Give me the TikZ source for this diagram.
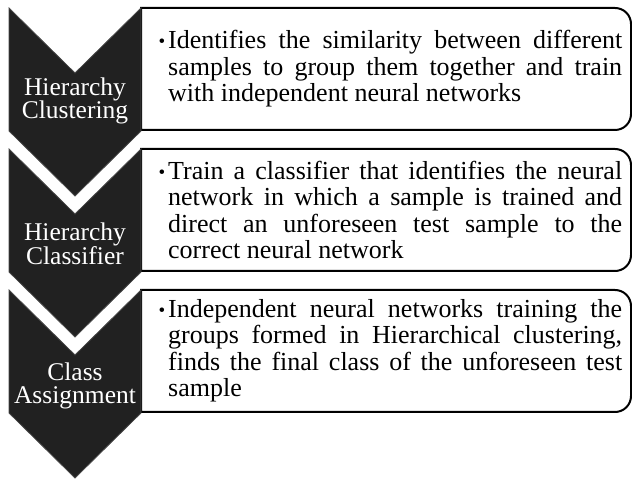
\documentclass[tikz,border=0pt]{standalone}
\usepackage{fontspec}
\setmainfont{Liberation Serif}[HyphenChar=None]
\newcommand{\mybullet}{\leavevmode\llap{\raisebox{1pt}{\fontsize{19}{19}\selectfont\textbullet}\hspace{3pt}}}
\begin{document}
\begin{tikzpicture}[x=1pt,y=1pt,
  chev/.style={fill=black!87, draw=black!72, line width=0.8pt},
  boxline/.style={draw=black, line width=2pt, fill=white},
  chevtext/.style={text=white, align=center, font=\fontsize{25.5}{23.5}\selectfont, inner sep=0pt},
  boxtext/.style={text width=454pt, align=justify, font=\fontsize{26}{26.5}\selectfont, inner sep=0pt, anchor=west}]
\useasboundingbox (0,0) rectangle (632,479);
% boxes
\draw[boxline] (141,471) -- (615,471) arc[start angle=90,end angle=0,radius=16] -- (631,365) arc[start angle=0,end angle=-90,radius=16] -- (141,349) -- cycle;
\draw[boxline] (141,330) -- (615,330) arc[start angle=90,end angle=0,radius=16] -- (631,224) arc[start angle=0,end angle=-90,radius=16] -- (141,208) -- cycle;
\draw[boxline] (141,189) -- (615,189) arc[start angle=90,end angle=0,radius=16] -- (631,83) arc[start angle=0,end angle=-90,radius=16] -- (141,67) -- cycle;
% chevrons
\draw[chev] (9,471) -- (75,406) -- (141,471) -- (141,348) -- (75,283) -- (9,348) -- cycle;
\draw[chev] (9,330) -- (75,265) -- (141,330) -- (141,207) -- (75,142) -- (9,207) -- cycle;
\draw[chev] (9,189) -- (75,124) -- (141,189) -- (141,66) -- (75,1) -- (9,66) -- cycle;
% chevron labels
\node[chevtext] (c1) at (75,378) {Hierarchy\\Clustering};
\node[chevtext] (c2) at (75,235) {Hierarchy\\Classifier};
\node[chevtext] (c3) at (75,93) {Class\\Assignment};
% box texts
\node[boxtext] (t1) at (168,410) {\mybullet Identifies the similarity between different samples to group them together and train with independent neural networks};
\node[boxtext] (t2) at (168,269) {\mybullet Train a classifier that identifies the neural network in which a sample is trained and direct an unforeseen test sample to the correct neural network};
\node[boxtext] (t3) at (168,128) {\mybullet Independent neural networks training the groups formed in Hierarchical clustering, finds the final class of the unforeseen test sample};
\end{tikzpicture}
\end{document}
